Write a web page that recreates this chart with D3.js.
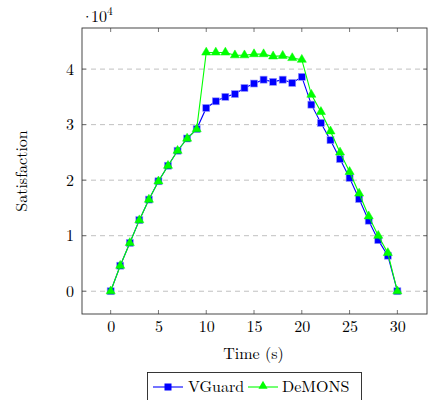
<!DOCTYPE html>
<html><head><meta charset="utf-8">
<script src="https://cdn.jsdelivr.net/npm/d3@7"></script>
<style>body{margin:0;background:#fff}svg{display:block}</style>
</head><body>
<svg id="c" width="432" height="400"></svg>
<script>
const times = d3.range(0, 31);
const vguard = [0,4600,8700,12800,16500,19800,22600,25300,27500,29200,33000,34200,35000,35500,36600,37400,38100,37700,38100,37500,38600,33600,30300,27200,23800,20400,16600,12700,9200,6400,0];
const demons = [0,4600,8700,12800,16500,19800,22600,25300,27500,29200,43000,43000,43000,42500,42500,42700,42700,42300,42400,42000,41700,35400,32300,28800,25000,21500,17600,13500,10000,6900,0];
const xTicks = [0,5,10,15,20,25,30];
const yTicks = [0,10000,20000,30000,40000];
const seriesNames = ["VGuard","DeMONS"];
const seriesColors = ["#0000ff","#00ff00"];

const FONT = '"Latin Modern Roman","Liberation Serif",serif';
const svg = d3.select("#c");
const L=82,R=427,T=28,B=314;
const x = d3.scaleLinear().domain([-3,33.1]).range([L,R]);
const y = d3.scaleLinear().domain([-4100,47400]).range([B,T]);

// grid
svg.append("g").selectAll("line").data(yTicks).join("line")
  .attr("x1",L).attr("x2",R).attr("y1",d=>y(d)).attr("y2",d=>y(d))
  .attr("stroke","#c0c0c0").attr("stroke-width",1).attr("stroke-dasharray","5,4");

// axes
const ax = svg.append("g").attr("transform",`translate(0,${B})`)
  .call(d3.axisBottom(x).tickValues(xTicks).tickSize(0).tickPadding(7).tickFormat(d3.format("d")));
const ay = svg.append("g").attr("transform",`translate(${L},0)`)
  .call(d3.axisLeft(y).tickValues(yTicks).tickSize(0).tickPadding(8).tickFormat(d=>d/10000));
[ax,ay].forEach(g=>{g.select(".domain").remove();g.attr("font-family",null).attr("font-size",null);
  g.selectAll("text").style("font-family",FONT).style("font-size","16px").attr("fill","#000");});
// inward ticks
const tk = svg.append("g").attr("stroke","#555").attr("stroke-width",0.8);
xTicks.forEach(t=>{
  tk.append("line").attr("x1",x(t)).attr("x2",x(t)).attr("y1",B).attr("y2",B-4);
  tk.append("line").attr("x1",x(t)).attr("x2",x(t)).attr("y1",T).attr("y2",T+4);
});
yTicks.forEach(t=>{
  tk.append("line").attr("x1",L).attr("x2",L+4).attr("y1",y(t)).attr("y2",y(t));
  tk.append("line").attr("x1",R).attr("x2",R-4).attr("y1",y(t)).attr("y2",y(t));
});

// series
const line = d3.line().x((d,i)=>x(times[i])).y(d=>y(d));
const tri = d3.symbol().type(d3.symbolTriangle).size(36);
function drawSeries(vals,color,kind){
  const g = svg.append("g");
  g.append("path").datum(vals).attr("d",line).attr("fill","none").attr("stroke",color).attr("stroke-width",1.1);
  if(kind==="sq"){
    g.selectAll("rect").data(vals).join("rect")
      .attr("x",(d,i)=>x(times[i])-3.5).attr("y",d=>y(d)-3.5).attr("width",7).attr("height",7)
      .attr("fill",color).attr("stroke","#9999ff").attr("stroke-width",0.6);
  } else {
    g.selectAll("path.m").data(vals).join("path").attr("class","m")
      .attr("transform",(d,i)=>`translate(${x(times[i])},${y(d)})`).attr("d",tri)
      .attr("fill",color).attr("stroke",color).attr("stroke-width",0.5);
  }
}
drawSeries(vguard,seriesColors[0],"sq");
drawSeries(demons,seriesColors[1],"tri");

// frame
svg.append("rect").attr("x",L).attr("y",T).attr("width",R-L).attr("height",B-T)
  .attr("fill","none").attr("stroke","#333").attr("stroke-width",0.9);

function txt(sel){return sel.style("font-family",FONT).attr("fill","#000");}
// exponent
const ex = txt(svg.append("text").attr("x",81).attr("y",22).style("font-size","16px"));
ex.append("tspan").text("·");
ex.append("tspan").attr("dx",-2.5).text("10");
ex.append("tspan").attr("dy",-7).style("font-size","11.5px").text("4");

// axis labels
txt(svg.append("text").attr("x",(L+R)/2-1).attr("y",359).attr("text-anchor","middle").style("font-size","16px").text("Time (s)"));
txt(svg.append("text").attr("transform","translate(27,171) rotate(-90)").attr("text-anchor","middle").style("font-size","16px").text("Satisfaction"));

// legend
const lg = svg.append("g");
lg.append("rect").attr("x",147.5).attr("y",372.5).attr("width",214).attr("height",34).attr("fill","#fff").attr("stroke","#222").attr("stroke-width",0.9);
lg.append("line").attr("x1",153).attr("x2",183).attr("y1",387).attr("y2",387).attr("stroke",seriesColors[0]).attr("stroke-width",1.1);
lg.append("rect").attr("x",164.5).attr("y",383.5).attr("width",7).attr("height",7).attr("fill",seriesColors[0]);
txt(lg.append("text").attr("x",188).attr("y",392).style("font-size","16px").text(seriesNames[0]));
lg.append("line").attr("x1",248).attr("x2",278).attr("y1",387).attr("y2",387).attr("stroke",seriesColors[1]).attr("stroke-width",1.1);
lg.append("path").attr("transform","translate(263,386)").attr("d",tri).attr("fill",seriesColors[1]);
txt(lg.append("text").attr("x",282).attr("y",392).style("font-size","16px").text(seriesNames[1]));
</script>
</body></html>
